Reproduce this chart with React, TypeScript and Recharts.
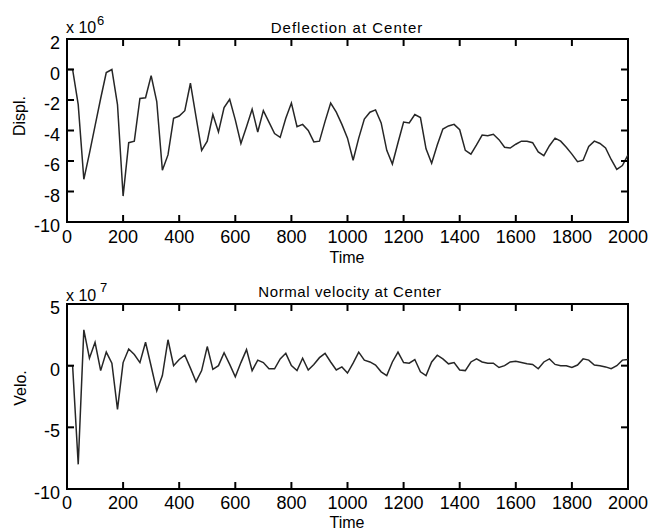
import React from 'react';
import { ComposedChart, Line, Scatter, XAxis, YAxis, ReferenceArea } from 'recharts';

// sample times (every 20 time units)
const time = [
  0, 20, 40, 60, 80, 100, 120, 140, 160, 180, 200, 220, 240, 260, 280, 300, 320, 340, 360, 380,
  400, 420, 440, 460, 480, 500, 520, 540, 560, 580, 600, 620, 640, 660, 680, 700, 720, 740, 760, 780,
  800, 820, 840, 860, 880, 900, 920, 940, 960, 980, 1000, 1020, 1040, 1060, 1080, 1100, 1120, 1140, 1160, 1180,
  1200, 1220, 1240, 1260, 1280, 1300, 1320, 1340, 1360, 1380, 1400, 1420, 1440, 1460, 1480, 1500, 1520, 1540, 1560, 1580,
  1600, 1620, 1640, 1660, 1680, 1700, 1720, 1740, 1760, 1780, 1800, 1820, 1840, 1860, 1880, 1900, 1920, 1940, 1960, 1980,
  2000,
];

// deflection at center (x 1e-6)
const deflection = [
  0, 0, -2.3, -7.2, -5.5, -3.7, -1.9, -0.2, 0.0, -2.3, -8.3, -4.8, -4.7, -1.9, -1.85, -0.4, -2.1, -6.6, -5.6, -3.2,
  -3.05, -2.7, -0.9, -3.1, -5.3, -4.7, -2.95, -4.1, -2.5, -1.95, -3.3, -4.85, -3.75, -2.6, -4.1, -2.7, -3.45, -4.2, -4.45, -3.2,
  -2.2, -3.75, -3.6, -4.0, -4.75, -4.7, -3.4, -2.2, -2.8, -3.6, -4.5, -5.95, -4.5, -3.25, -2.8, -2.65, -3.5, -5.3, -6.2, -4.8,
  -3.45, -3.5, -2.95, -3.15, -5.2, -6.15, -4.95, -3.9, -3.7, -3.6, -3.95, -5.3, -5.55, -4.95, -4.3, -4.35, -4.25, -4.6, -5.1, -5.15,
  -4.9, -4.7, -4.7, -4.8, -5.4, -5.65, -5.0, -4.5, -4.7, -5.1, -5.55, -6.05, -5.95, -5.05, -4.7, -4.85, -5.15, -5.9, -6.55, -6.3,
  -5.6,
];

// normal velocity at center (x 1e-7)
const velocity = [
  0, 0, -8.0, 2.9, 0.6, 1.9, -0.4, 1.1, 0.2, -3.55, 0.25, 1.35, 0.9, 0.25, 1.9, -0.05, -2.05, -0.8, 2.1, 0,
  0.5, 0.85, -0.2, -1.3, -0.4, 1.55, -0.3, 0, 1.05, 0.1, -0.9, 0.25, 1.3, -0.4, 0.45, 0.25, -0.25, -0.25, 0.55, 1.0,
  0, -0.4, 0.6, -0.35, 0.1, 0.65, 1.0, 0.3, -0.35, -0.1, -0.6, 0.2, 1.1, 0.45, 0.3, 0.05, -0.5, -0.8, 0.3, 1.1,
  0.25, 0.2, 0.5, -0.5, -0.8, 0.3, 0.85, 0.55, 0.15, 0.25, -0.35, -0.4, 0.3, 0.55, 0.3, 0.2, 0.2, -0.15, 0, 0.3,
  0.35, 0.25, 0.15, 0.1, -0.25, 0.3, 0.55, 0.1, 0, 0, -0.15, 0.05, 0.55, 0.45, 0.05, 0, -0.1, -0.25, 0, 0.45,
  0.5,
];

const timeTicks = [0, 200, 400, 600, 800, 1000, 1200, 1400, 1600, 1800, 2000];
const displTicks = [-10, -8, -6, -4, -2, 0, 2];
const veloTicks = [-10, -5, 0, 5];

const FONT = '"Liberation Sans", Arial, Helvetica, sans-serif';
const INK = '#000';
const TICK = 7;

const makeXLabel = (dy: number) => (props: any) => (
  <text x={props.x} y={props.y + dy} textAnchor="middle" fontSize={18} fontFamily={FONT} fill={INK}>
    {props.payload.value}
  </text>
);

const YLabel = (props: any) => (
  <text x={props.x - 7} y={props.y + 10} textAnchor="end" fontSize={18} fontFamily={FONT} fill={INK}>
    {props.payload.value}
  </text>
);

// inward tick stub drawn at a point placed by the chart's own scales
const stub = (dx: number, dy: number) => (props: any) => (
  <path d={`M${props.cx},${props.cy}l${dx},${dy}`} stroke={INK} strokeWidth={2} fill="none" />
);
const stubUp = stub(0, -TICK);
const stubDown = stub(0, TICK);
const stubRight = stub(TICK, 0);
const stubLeft = stub(-TICK, 0);

interface PanelProps {
  values: number[];
  domain: [number, number];
  yTicks: number[];
  top: number;
  xAxisHeight: number;
  labelDy: number;
}

const Panel = ({ values, domain, yTicks, top, xAxisHeight, labelDy }: PanelProps) => {
  const rows = time.map((t, i) => ({ t, v: values[i] }));
  const [lo, hi] = domain;
  const tMin = timeTicks[0];
  const tMax = timeTicks[timeTicks.length - 1];
  const bottomMarks = timeTicks.map((t) => ({ t, v: lo }));
  const topMarks = timeTicks.map((t) => ({ t, v: hi }));
  const leftMarks = yTicks.map((v) => ({ t: tMin, v }));
  const rightMarks = yTicks.map((v) => ({ t: tMax, v }));
  return (
    <ComposedChart width={664} height={266} data={rows} margin={{ top, right: 36, bottom: 0, left: 0 }}>
      <XAxis
        dataKey="t"
        type="number"
        domain={[tMin, tMax]}
        ticks={timeTicks}
        interval={0}
        allowDataOverflow
        height={xAxisHeight}
        axisLine={false}
        tickLine={false}
        tickSize={0}
        tickMargin={0}
        tick={makeXLabel(labelDy - 6)}
      />
      <YAxis
        dataKey="v"
        type="number"
        domain={domain}
        ticks={yTicks}
        interval={0}
        allowDataOverflow
        width={67}
        axisLine={false}
        tickLine={false}
        tickSize={0}
        tickMargin={0}
        tick={YLabel}
      />
      <ReferenceArea
        x1={tMin}
        x2={tMax}
        y1={lo}
        y2={hi}
        fill="none"
        fillOpacity={0}
        stroke={INK}
        strokeWidth={2}
        strokeOpacity={1}
        ifOverflow="visible"
      />
      <Scatter data={bottomMarks} dataKey="v" shape={stubUp} isAnimationActive={false} legendType="none" />
      <Scatter data={topMarks} dataKey="v" shape={stubDown} isAnimationActive={false} legendType="none" />
      <Scatter data={leftMarks} dataKey="v" shape={stubRight} isAnimationActive={false} legendType="none" />
      <Scatter data={rightMarks} dataKey="v" shape={stubLeft} isAnimationActive={false} legendType="none" />
      <Line
        dataKey="v"
        type="linear"
        stroke="#262626"
        strokeWidth={1.5}
        dot={false}
        activeDot={false}
        isAnimationActive={false}
      />
    </ComposedChart>
  );
};

const App = () => (
  <div style={{ position: 'absolute', left: 0, top: 0, width: 664, height: 532, background: '#fff' }}>
    <div style={{ position: 'absolute', left: 0, top: 0 }}>
      <Panel values={deflection} domain={[-10, 2]} yTicks={displTicks} top={39} xAxisHeight={44} labelDy={27} />
    </div>
    <div style={{ position: 'absolute', left: 0, top: 266 }}>
      <Panel values={velocity} domain={[-10, 5]} yTicks={veloTicks} top={38} xAxisHeight={43} labelDy={26} />
    </div>
    <svg
      width={664}
      height={532}
      style={{ position: 'absolute', left: 0, top: 0, pointerEvents: 'none' }}
      fontFamily={FONT}
      fill={INK}
    >
      <text x={347} y={33} textAnchor="middle" fontSize={15} letterSpacing={1}>Deflection at Center</text>
      <text x={66} y={33} fontSize={16}>x 10</text>
      <text x={97} y={25} fontSize={13}>6</text>
      <text transform="translate(25,116) rotate(-90)" textAnchor="middle" fontSize={16}>Displ.</text>
      <text x={347} y={263} textAnchor="middle" fontSize={16}>Time</text>

      <text x={350} y={297} textAnchor="middle" fontSize={15} letterSpacing={0.6}>Normal velocity at Center</text>
      <text x={66} y={301} fontSize={16}>x 10</text>
      <text x={100} y={292} fontSize={13}>7</text>
      <text transform="translate(26,388) rotate(-90)" textAnchor="middle" fontSize={16}>Velo.</text>
      <text x={347} y={528} textAnchor="middle" fontSize={16}>Time</text>
    </svg>
  </div>
);

export default App;
